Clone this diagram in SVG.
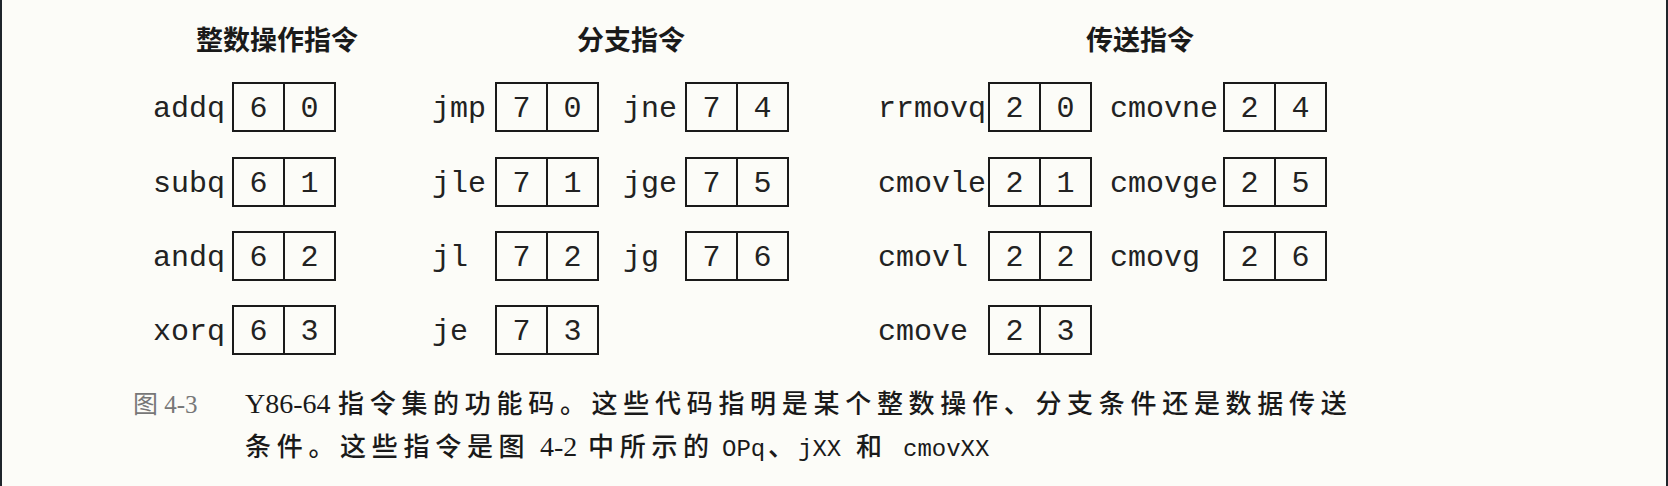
<svg xmlns="http://www.w3.org/2000/svg" width="1668" height="486" viewBox="0 0 1668 486">
<style>
.bg{fill:#fcfcf8}
.edge{fill:#1f252b}
.m{font-family:"Liberation Mono","DejaVu Sans Mono",monospace;font-size:30px;fill:#222}
.d{font-family:"Liberation Mono","DejaVu Sans Mono",monospace;font-size:30px;fill:#222;text-anchor:middle}
.box{fill:none;stroke:#1a1a1a;stroke-width:2}
.h{font-family:"Noto Sans CJK SC","Noto Sans",sans-serif;font-size:27px;font-weight:bold;fill:#1a1a1a;text-anchor:middle}
.cap{font-family:"Noto Sans CJK SC","Noto Sans",sans-serif;font-size:26px;font-weight:500;fill:#1a1a1a;letter-spacing:5.7px}
.ser{font-family:"Liberation Serif",serif;font-size:28px;fill:#1a1a1a}
.cm{font-family:"Liberation Mono",monospace;font-size:24px;fill:#1a1a1a}
.fig{font-family:"Liberation Serif","Noto Sans CJK SC",serif;font-size:25px;fill:#777}
</style>
<defs>
<g id="cell">
<rect class="box" x="0" y="0" width="102" height="48"/>
<line class="box" x1="51" y1="0" x2="51" y2="48"/>
</g>
</defs>
<rect class="bg" x="0" y="0" width="1668" height="486"/>
<rect class="edge" x="0" y="0" width="2" height="486"/>
<rect class="edge" x="1666" y="0" width="2" height="486"/>

<text class="h" x="277" y="50">整数操作指令</text>
<text class="h" x="631" y="50">分支指令</text>
<text class="h" x="1140" y="50">传送指令</text>

<g id="addq"><text class="m" x="153" y="117">addq</text><use href="#cell" x="233" y="83"/><text class="d" x="258.5" y="117">6</text><text class="d" x="309.5" y="117">0</text></g>
<g id="subq"><text class="m" x="153" y="192">subq</text><use href="#cell" x="233" y="158"/><text class="d" x="258.5" y="192">6</text><text class="d" x="309.5" y="192">1</text></g>
<g id="andq"><text class="m" x="153" y="266">andq</text><use href="#cell" x="233" y="232"/><text class="d" x="258.5" y="266">6</text><text class="d" x="309.5" y="266">2</text></g>
<g id="xorq"><text class="m" x="153" y="340">xorq</text><use href="#cell" x="233" y="306"/><text class="d" x="258.5" y="340">6</text><text class="d" x="309.5" y="340">3</text></g>

<g id="jmp"><text class="m" x="432" y="117">jmp</text><use href="#cell" x="496" y="83"/><text class="d" x="521.5" y="117">7</text><text class="d" x="572.5" y="117">0</text></g>
<g id="jle"><text class="m" x="432" y="192">jle</text><use href="#cell" x="496" y="158"/><text class="d" x="521.5" y="192">7</text><text class="d" x="572.5" y="192">1</text></g>
<g id="jl"><text class="m" x="432" y="266">jl</text><use href="#cell" x="496" y="232"/><text class="d" x="521.5" y="266">7</text><text class="d" x="572.5" y="266">2</text></g>
<g id="je"><text class="m" x="432" y="340">je</text><use href="#cell" x="496" y="306"/><text class="d" x="521.5" y="340">7</text><text class="d" x="572.5" y="340">3</text></g>

<g id="jne"><text class="m" x="623" y="117">jne</text><use href="#cell" x="686" y="83"/><text class="d" x="711.5" y="117">7</text><text class="d" x="762.5" y="117">4</text></g>
<g id="jge"><text class="m" x="623" y="192">jge</text><use href="#cell" x="686" y="158"/><text class="d" x="711.5" y="192">7</text><text class="d" x="762.5" y="192">5</text></g>
<g id="jg"><text class="m" x="623" y="266">jg</text><use href="#cell" x="686" y="232"/><text class="d" x="711.5" y="266">7</text><text class="d" x="762.5" y="266">6</text></g>

<g id="rrmovq"><text class="m" x="878" y="117">rrmovq</text><use href="#cell" x="989" y="83"/><text class="d" x="1014.5" y="117">2</text><text class="d" x="1065.5" y="117">0</text></g>
<g id="cmovle"><text class="m" x="878" y="192">cmovle</text><use href="#cell" x="989" y="158"/><text class="d" x="1014.5" y="192">2</text><text class="d" x="1065.5" y="192">1</text></g>
<g id="cmovl"><text class="m" x="878" y="266">cmovl</text><use href="#cell" x="989" y="232"/><text class="d" x="1014.5" y="266">2</text><text class="d" x="1065.5" y="266">2</text></g>
<g id="cmove"><text class="m" x="878" y="340">cmove</text><use href="#cell" x="989" y="306"/><text class="d" x="1014.5" y="340">2</text><text class="d" x="1065.5" y="340">3</text></g>

<g id="cmovne"><text class="m" x="1110" y="117">cmovne</text><use href="#cell" x="1224" y="83"/><text class="d" x="1249.5" y="117">2</text><text class="d" x="1300.5" y="117">4</text></g>
<g id="cmovge"><text class="m" x="1110" y="192">cmovge</text><use href="#cell" x="1224" y="158"/><text class="d" x="1249.5" y="192">2</text><text class="d" x="1300.5" y="192">5</text></g>
<g id="cmovg"><text class="m" x="1110" y="266">cmovg</text><use href="#cell" x="1224" y="232"/><text class="d" x="1249.5" y="266">2</text><text class="d" x="1300.5" y="266">6</text></g>

<g id="caption">
<text class="fig" x="133" y="413">图 4-3</text>
<text x="245" y="413"><tspan class="ser">Y86-64</tspan><tspan class="cap" x="338">指令集的功能码。这些代码指明是某个整数操作、分支条件还是数据传送</tspan></text>
<text y="456"><tspan class="cap" x="245">条件。这些指令是图</tspan><tspan class="ser" x="540">4-2</tspan><tspan class="cap" x="588">中所示的</tspan><tspan class="cm" x="722">OPq</tspan><tspan class="cap" x="768">、</tspan><tspan class="cm" x="798">jXX</tspan><tspan class="cap" x="856">和</tspan><tspan class="cm" x="903">cmovXX</tspan></text>
</g>
</svg>
